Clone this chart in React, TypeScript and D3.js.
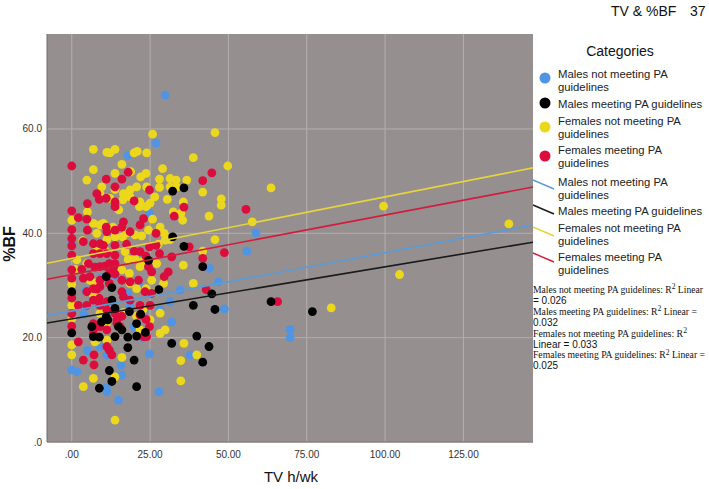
import React from "react";
import * as d3 from "d3";

const categories = [
  "Males not meeting PA guidelines",
  "Males meeting PA guidelines",
  "Females not meeting PA guidelines",
  "Females meeting PA guidelines",
];
const dotColors = ["#4f95e3", "#000000", "#ebd81c", "#dc0c3c"];
const lineColors = ["#5a9bd8", "#1a1a1a", "#e6d43c", "#d21c3e"];

const xTicks = [0, 25, 50, 75, 100, 125];
const xTickLabels = [".00", "25.00", "50.00", "75.00", "100.00", "125.00"];
const yTicks = [0, 20, 40, 60];
const yTickLabels = [".0", "20.0", "40.0", "60.0"];

// [TV h/wk, %BF]
const malesNotMeeting: [number, number][] = [
  [0, 13.8], [1.6, 13.5], [0, 38.2], [0, 26.5], [3.9, 24.5], [5, 17.5], [6.9, 21], [8.8, 18.3],
  [9, 27], [11.2, 16.7], [11.2, 9.6], [12.8, 41.2], [13.8, 32], [14.9, 8], [15.4, 24], [15.7, 14.7],
  [16, 12.8], [17.9, 54.9], [17.9, 28.5], [19.9, 22], [20.9, 35], [22.9, 19.9], [24.8, 16.9],
  [24.8, 43.8], [26.9, 57.3], [27.8, 9.6], [28.2, 25.3], [29.8, 66.5], [31.4, 26.9], [31.9, 23],
  [34.6, 29.1], [37.8, 16.7], [43.9, 33.3], [46.8, 30.7], [48.7, 25.5], [55.9, 36.6], [58.8, 40.1],
  [69.7, 21.6], [69.7, 20], [18.5, 26], [21.5, 30], [9.5, 31.5], [4.5, 29], [25.5, 33], [11, 10.4],
];

const malesMeeting: [number, number][] = [
  [0, 28.8], [0, 20.9], [6.4, 22.1], [6.9, 20.2], [8.8, 20.1], [8.8, 10.3], [11, 24], [11, 31.7],
  [11.5, 23.4], [12, 13.7], [12.8, 11.6], [12.8, 27.2], [12.8, 29.6], [13.8, 20.2], [13.8, 25.6],
  [14.9, 22.1], [17.9, 18.1], [17.9, 20.1], [18.4, 25], [19.9, 15.7], [20.7, 10.6], [20.7, 20.3],
  [20.7, 22.7], [22, 24.5], [23.5, 21], [27.8, 29.2], [31.9, 18.9], [32.2, 48.1], [35.8, 48.7],
  [32.2, 39.3], [35.8, 37.5], [38.8, 26.2], [39.9, 20.3], [41.8, 33.6], [41.8, 15.3], [43.8, 18.3],
  [44.7, 28.4], [45.7, 25.4], [63.6, 26.9], [76.8, 25], [16, 21.5], [9.5, 23], [24.5, 34.8],
];

const femalesNotMeeting: [number, number][] = [
  [25.8, 59.0], [45.7, 59.3], [6.9, 56.1], [11.2, 55.5], [12.2, 55.4], [13.8, 56.1], [19.9, 55.4],
  [20.9, 55.7], [23.9, 55.4], [38.8, 54.5], [16, 53.2], [6.9, 52.2], [29, 52.4], [49.8, 52.9],
  [13.8, 51.5], [18.8, 51.8], [22, 50.8], [23.7, 51.5], [4.8, 50.2], [28, 50.4], [31.4, 50.5],
  [33.3, 50.2], [36.7, 50.2], [9.6, 48.9], [13.8, 48.4], [9, 47.6], [16.5, 47.6], [18.6, 48.3],
  [20.7, 48.9], [23.9, 48.9], [28, 48.8], [31.4, 48.9], [33.5, 48.9], [41.8, 47.9], [63.6, 48.7],
  [12.2, 46.7], [16.3, 46.4], [18.6, 47], [21.8, 46], [25, 45.8], [21.6, 45.1], [23.7, 45.1],
  [35.6, 46], [47.7, 46.6], [47.7, 45.4], [32.4, 44.1], [34.8, 43.8], [35.4, 42.5], [43.8, 43.3],
  [5, 44.1], [0, 42.5], [6.9, 41.9], [9, 41.6], [10.1, 41.9], [13.1, 41.2], [25.8, 42.7],
  [28.2, 41.2], [57.6, 42.2], [29.5, 40], [8, 40], [31.4, 38.8], [24.5, 40.6], [20.2, 39.7],
  [22.3, 39.5], [45.7, 38.8], [11.2, 38.8], [13.8, 39.3], [16.2, 39.3], [17.6, 40.1], [27.6, 37.9],
  [29.8, 38.7], [3.5, 38.6], [8, 36.8], [10.6, 36.8], [18, 35], [20.2, 35.2], [22.3, 34.5],
  [41.8, 36.6], [27.1, 34.2], [35.6, 33.9], [1.6, 34.9], [4.8, 34.2], [1.1, 33.1], [16, 33],
  [18.4, 32.3], [21.8, 33.6], [5.8, 31], [7.2, 30.5], [29.3, 30.4], [38.8, 30.4], [0, 30.2],
  [18.6, 30.4], [20.7, 29.4], [23.7, 29.4], [27.1, 28.8], [6.9, 28.2], [9, 27.2], [0, 26.2],
  [9, 24.6], [16.5, 24.8], [20.7, 24.1], [22.7, 25.4], [25, 23.4], [28.2, 24.7], [0, 23.6],
  [11, 22.7], [21.8, 21.5], [29.8, 21.5], [28.2, 20.8], [11.2, 19.5], [8, 19.5], [7.4, 19.2],
  [0, 18.6], [35.8, 18.9], [0, 16.7], [16, 16.2], [39.9, 16.7], [34.8, 15.6], [6.9, 12.2],
  [13.8, 12.5], [34.8, 11.7], [3.7, 10.6], [13.8, 4.2], [82.8, 25.7], [104.6, 32.1], [99.5, 45.2],
  [139.5, 41.8], [15, 44.5], [26.5, 47], [30.5, 46.5], [17, 36.5], [25.5, 31],
];

const femalesMeeting: [number, number][] = [
  [0, 52.9], [18, 51.7], [11, 50.4], [16, 50.4], [41.8, 50.1], [44.7, 51.6], [24.8, 48.3],
  [13.8, 48.9], [8, 47.6], [11, 46.7], [8.8, 46.5], [5, 45.7], [13.8, 46], [13.8, 45.1],
  [19.9, 46.2], [0, 44.3], [2.1, 43], [4.8, 42.7], [32.7, 43.3], [35.8, 45], [55.6, 44.6],
  [0, 40.7], [11, 41.2], [11.2, 40.3], [16.5, 42.2], [16, 41.2], [22.9, 42.8], [21.8, 41.6],
  [26.9, 40], [18.6, 40.3], [13.8, 40.6], [5, 40.6], [0, 39], [3.7, 38.4], [6.9, 38], [9, 38],
  [0, 37.6], [10.1, 37.7], [13.8, 37.7], [17.5, 37.9], [19.9, 36.6], [21.8, 36.5], [23.7, 35.6],
  [24.8, 37.4], [26.9, 37.7], [28, 36.1], [31.9, 35.5], [37.5, 37.4], [48.7, 36.3], [41.8, 35.2],
  [0, 35.8], [6.9, 36.1], [9, 36.1], [11.2, 36.1], [13.8, 35.8], [13.8, 34.2], [5.3, 34.2],
  [0, 33], [3.2, 33.1], [7.4, 33.5], [9, 33.6], [10.6, 33.7], [12, 34.2], [13.3, 33.5],
  [13.8, 32.2], [24.5, 33.6], [25.5, 32.6], [30.8, 32.6], [29.5, 31.7], [0, 31.4], [3.7, 31.4],
  [5.8, 31.7], [9, 31], [12, 32.3], [16, 31], [18.6, 30.7], [21.3, 31], [8, 29.3], [4.8, 28.8],
  [6.9, 29.4], [9, 29.8], [12, 30.4], [0, 28.5], [16, 28.8], [16.5, 27.8], [18.6, 27.2],
  [21.8, 26.2], [23.4, 28.8], [25.5, 28.5], [0, 27.6], [2.1, 26.2], [4.8, 26.2], [9, 26.2],
  [6.9, 27.2], [8.8, 27.5], [11.2, 26.9], [11.2, 25.3], [13.8, 24.7], [16, 24.1], [25, 26.2],
  [21.8, 24.3], [23.7, 23.5], [0, 24.6], [6.9, 22.7], [9, 22.1], [6.9, 21.5], [6.9, 20.7],
  [11.2, 21.5], [14.4, 22.7], [14.4, 23.4], [15.4, 22.1], [24.8, 22.1], [22.9, 20.2], [23.9, 20.2],
  [0, 22.2], [11.2, 18.3], [12, 17.6], [12.8, 16.7], [2.1, 19.2], [3.7, 15.7], [7.1, 16.7],
  [7.1, 14.8], [42.9, 29.2], [65.7, 26.9],
];

const seriesData = [malesNotMeeting, malesMeeting, femalesNotMeeting, femalesMeeting];
const drawOrder = [0, 2, 3, 1];

// Linear fit lines: %BF = intercept + slope * TV
const fitIntercepts = [25.1, 23.6, 35.2, 32.1];
const fitSlopes = [0.112, 0.0998, 0.1178, 0.114];
const r2Values = ["0.026", "0.032", "0.033", "0.025"];

const W = 709;
const H = 489;
const plot = { left: 47, right: 533, top: 34, bottom: 442 };

export default function App() {
  const x = d3.scaleLinear().domain([-7.9, 147.2]).range([plot.left, plot.right]);
  const y = d3.scaleLinear().domain([0, 78.2]).range([plot.bottom, plot.top]);
  const line = d3
    .line<[number, number]>()
    .x((d) => x(d[0]))
    .y((d) => y(d[1]));
  const [x0, x1] = x.domain();

  const sans = "'Liberation Sans', Arial, sans-serif";
  const serif = "'Liberation Serif', 'Times New Roman', serif";

  const legendDotRows = [
    { lines: ["Males not meeting PA", "guidelines"], y: 78, cy: 78 },
    { lines: ["Males meeting PA guidelines"], y: 108, cy: 103 },
    { lines: ["Females not meeting PA", "guidelines"], y: 125, cy: 127 },
    { lines: ["Females meeting PA", "guidelines"], y: 154, cy: 156 },
  ];
  const legendLineRows = [
    { lines: ["Males not meeting PA", "guidelines"], y: 186, ly: 180 },
    { lines: ["Males meeting PA guidelines"], y: 215, ly: 205 },
    { lines: ["Females not meeting PA", "guidelines"], y: 232, ly: 227 },
    { lines: ["Females meeting PA", "guidelines"], y: 261, ly: 253 },
  ];
  const r2Rows = [
    { a: "Males not meeting PA guidelines: R", b: " Linear", c: "= " + r2Values[0], w: 170 },
    { a: "Males meeting PA guidelines: R", b: " Linear =", c: r2Values[1], w: 164 },
    { a: "Females not meeting PA guidelines: R", b: "", c: "Linear = " + r2Values[2], w: 154 },
    { a: "Females meeting PA guidelines: R", b: " Linear =", c: r2Values[3], w: 172 },
  ];

  return (
    <svg
      width={W}
      height={H}
      style={{ position: "absolute", left: 0, top: 0, background: "#fff" }}
    >
      <defs>
        <clipPath id="plotClip">
          <rect x={plot.left} y={plot.top} width={plot.right - plot.left} height={plot.bottom - plot.top} />
        </clipPath>
      </defs>

      {/* header */}
      <text x={611} y={16} fontFamily={sans} fontSize={14} fill="#111">TV &amp; %BF</text>
      <text x={690} y={16} fontFamily={sans} fontSize={14} fill="#111">37</text>

      {/* plot background */}
      <rect x={plot.left} y={plot.top} width={plot.right - plot.left} height={plot.bottom - plot.top} fill="#968f8f" />
      {yTicks.map((t) => (
        <line key={"gy" + t} x1={plot.left} x2={plot.right} y1={y(t)} y2={y(t)} stroke="#b4afaf" strokeWidth={1} />
      ))}
      {xTicks.map((t) => (
        <line key={"gx" + t} x1={x(t)} x2={x(t)} y1={plot.top} y2={plot.bottom} stroke="#b4afaf" strokeWidth={1} />
      ))}
      <line x1={plot.left} x2={plot.left} y1={plot.top} y2={plot.bottom} stroke="#6e6a6a" strokeWidth={1} />
      <line x1={plot.left} x2={plot.right} y1={plot.bottom} y2={plot.bottom} stroke="#6e6a6a" strokeWidth={1} />

      {/* points */}
      <g clipPath="url(#plotClip)">
        {drawOrder.map((si) =>
          seriesData[si].map((d, i) => (
            <circle key={si + "-" + i} cx={x(d[0])} cy={y(d[1])} r={4.4} fill={dotColors[si]} />
          ))
        )}
        {[0, 1, 2, 3].map((si) => {
          const pts: [number, number][] = [
            [x0, fitIntercepts[si] + fitSlopes[si] * x0],
            [x1, fitIntercepts[si] + fitSlopes[si] * x1],
          ];
          return <path key={"fit" + si} d={line(pts) || ""} stroke={lineColors[si]} strokeWidth={1.6} fill="none" />;
        })}
      </g>

      {/* y tick labels */}
      {yTicks.map((t, i) => (
        <text key={"yl" + t} x={42} y={y(t) + 3.5} textAnchor="end" fontFamily={sans} fontSize={10} fill="#333">
          {yTickLabels[i]}
        </text>
      ))}
      {/* x tick labels */}
      {xTicks.map((t, i) => (
        <text key={"xl" + t} x={x(t)} y={458} textAnchor="middle" fontFamily={sans} fontSize={10} fill="#333">
          {xTickLabels[i]}
        </text>
      ))}

      {/* axis titles */}
      <text x={291} y={482} textAnchor="middle" fontFamily={sans} fontSize={15} fill="#111">TV h/wk</text>
      <text
        transform={`translate(15, 244) rotate(-90)`}
        textAnchor="middle"
        fontFamily={sans}
        fontSize={16}
        fontWeight="bold"
        fill="#111"
      >
        %BF
      </text>

      {/* legend */}
      <text x={620} y={56} textAnchor="middle" fontFamily={sans} fontSize={14} fill="#111">Categories</text>
      {legendDotRows.map((row, i) => (
        <g key={"ld" + i}>
          <circle cx={545} cy={row.cy} r={5.5} fill={dotColors[i]} />
          {row.lines.map((l, j) => (
            <text key={j} x={558} y={row.y + j * 13.3} fontFamily={sans} fontSize={11.3} fill="#222">
              {l}
            </text>
          ))}
        </g>
      ))}
      {legendLineRows.map((row, i) => (
        <g key={"ll" + i}>
          <line x1={533} y1={row.ly} x2={554} y2={row.ly + 9} stroke={lineColors[i]} strokeWidth={1.4} />
          {row.lines.map((l, j) => (
            <text key={j} x={558} y={row.y + j * 13.3} fontFamily={sans} fontSize={11.3} fill="#222">
              {l}
            </text>
          ))}
        </g>
      ))}

      {/* R2 notes */}
      {r2Rows.map((row, i) => (
        <g key={"r2" + i}>
          <text
            x={533}
            y={293 + i * 21.8}
            fontFamily={serif}
            fontSize={9.6}
            fill="#111"
            textLength={row.w}
            lengthAdjust="spacingAndGlyphs"
          >
            {row.a}
            <tspan fontSize={7.5} dy={-3.6}>2</tspan>
            <tspan dy={3.6}>{row.b}</tspan>
          </text>
          <text x={533} y={304 + i * 21.8} fontFamily={sans} fontSize={10} fill="#111">
            {row.c}
          </text>
        </g>
      ))}
    </svg>
  );
}
